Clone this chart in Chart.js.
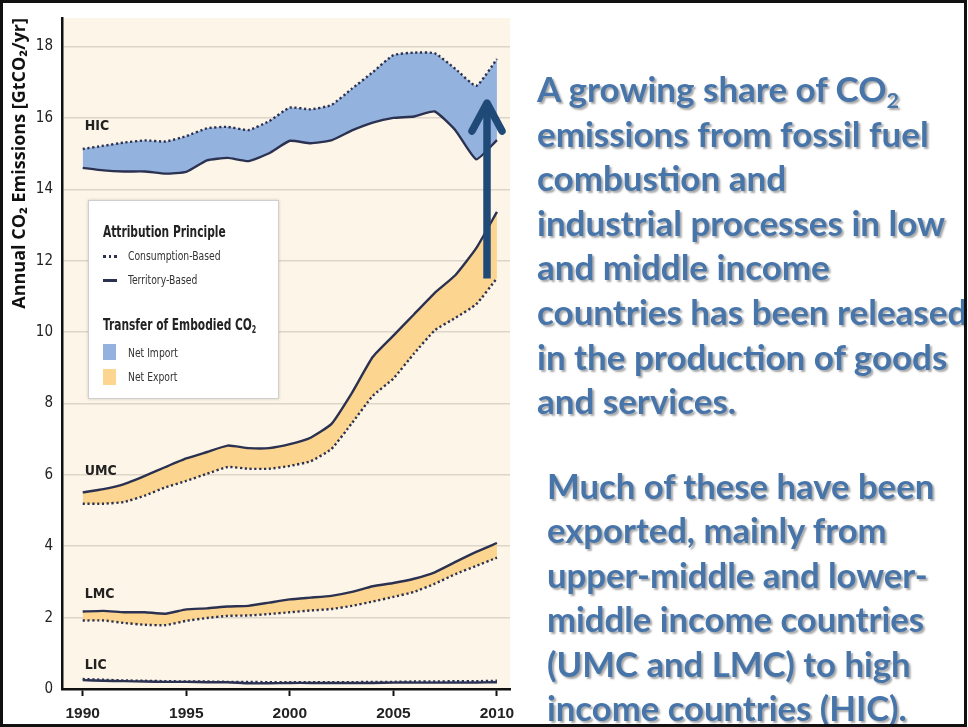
<!DOCTYPE html>
<html>
<head>
<meta charset="utf-8">
<script src="https://cdn.jsdelivr.net/npm/chart.js@4.4.0/dist/chart.umd.min.js"></script>
<style>
  html, body { margin: 0; padding: 0; background: #ffffff; }
  #wrap { position: relative; width: 968px; height: 727px; overflow: hidden; background: #fff; }
  #c { position: absolute; left: 0; top: 0; }
  #legend {
    position: absolute; left: 88px; top: 200px; width: 191px; height: 199px;
    background: #ffffff; border: 1px solid #cfcfcf; box-sizing: border-box;
    box-shadow: 0 0 3px rgba(0,0,0,0.18);
    font-family: 'Liberation Sans Narrow', 'DejaVu Sans Condensed', 'Liberation Sans', sans-serif;
    color: #222;
  }
  #legend .hd { position: absolute; left: 14px; font-weight: bold; font-size: 16px; white-space: nowrap; line-height: 18px; transform: scaleX(0.74); transform-origin: 0 50%; }
  #legend .it { position: absolute; left: 39px; font-size: 13px; white-space: nowrap; line-height: 14px; color: #333; transform: scaleX(0.79); transform-origin: 0 50%; }
  #legend .sw { position: absolute; left: 14px; }
  .para {
    position: absolute; font-family: Lato, 'Open Sans', sans-serif; font-weight: bold;
    color: #4775aa; white-space: nowrap; text-shadow: 2px 2px 2px rgba(0,0,0,0.35);
  }
  .para sub { font-size: 0.62em; vertical-align: -0.28em; line-height: 0; }
  #clip { position: absolute; left: 0; top: 0; width: 964px; height: 724px; overflow: hidden; }
  #frame { position: absolute; left: 0; top: 0; width: 967px; height: 727px; border: 3px solid #111; box-sizing: border-box; pointer-events: none; }
</style>
</head>
<body>
<div id="wrap">
  <canvas id="c" width="968" height="727"></canvas>
  <div id="legend">
    <div class="hd" style="top:22px;">Attribution Principle</div>
    <div class="sw" style="top:54px;width:14px;height:2.5px;background:repeating-linear-gradient(90deg,#2b3151 0 2.5px,transparent 2.5px 5.5px);"></div>
    <div class="it" style="top:48px;">Consumption-Based</div>
    <div class="sw" style="top:78px;width:14px;height:2.5px;background:#2b3151;"></div>
    <div class="it" style="top:72px;">Territory-Based</div>
    <div class="hd" style="top:115px;">Transfer of Embodied CO<sub style="font-size:0.6em;vertical-align:-0.3em;line-height:0">2</sub></div>
    <div class="sw" style="top:143px;width:13px;height:16px;background:#93b2dd;"></div>
    <div class="it" style="top:145px;">Net Import</div>
    <div class="sw" style="top:168px;width:13px;height:16px;background:#fcd590;"></div>
    <div class="it" style="top:169px;">Net Export</div>
  </div>
  <div id="clip">
    <div class="para" id="p1" style="left:537px;top:66px;">A growing share of CO<sub>2</sub><br>emissions from fossil fuel<br>combustion and<br>industrial processes in low<br>and middle income<br>countries has been released<br>in the production of goods<br>and services.</div>
    <div class="para" id="p2" style="left:547px;top:464px;">Much of these have been<br>exported, mainly from<br>upper-middle and lower-<br>middle income countries<br>(UMC and LMC) to high<br>income countries (HIC).</div>
  </div>
  <div id="frame"></div>
</div>
<script>
// ---------------- DATA ----------------
const years = [1990,1991,1992,1993,1994,1995,1996,1997,1998,1999,2000,2001,2002,2003,2004,2005,2006,2007,2008,2009,2010];

const hicTerritory   = [14.60,14.53,14.50,14.50,14.44,14.49,14.81,14.88,14.79,15.01,15.36,15.29,15.37,15.65,15.87,16.00,16.04,16.18,15.65,14.84,15.38];
const hicConsumption = [15.13,15.22,15.31,15.37,15.34,15.49,15.71,15.75,15.66,15.91,16.29,16.24,16.36,16.82,17.28,17.76,17.83,17.81,17.37,16.90,17.65];

const umcTerritory   = [5.51,5.60,5.74,5.97,6.22,6.46,6.64,6.82,6.75,6.75,6.86,7.04,7.42,8.30,9.30,9.90,10.50,11.10,11.60,12.35,13.37];
const umcConsumption = [5.19,5.19,5.24,5.42,5.65,5.83,6.03,6.22,6.17,6.17,6.25,6.38,6.72,7.45,8.21,8.70,9.40,10.05,10.40,10.78,11.51];

const lmcTerritory   = [2.17,2.19,2.15,2.15,2.11,2.23,2.26,2.31,2.33,2.42,2.51,2.56,2.61,2.72,2.88,2.97,3.09,3.27,3.56,3.84,4.09];
const lmcConsumption = [1.92,1.92,1.85,1.80,1.79,1.91,1.99,2.05,2.06,2.10,2.15,2.20,2.24,2.33,2.45,2.58,2.72,2.95,3.22,3.45,3.68];

const licTerritory   = [0.25,0.23,0.22,0.21,0.20,0.20,0.19,0.19,0.16,0.16,0.17,0.17,0.17,0.17,0.17,0.18,0.18,0.18,0.18,0.18,0.19];
const licConsumption = [0.28,0.26,0.24,0.23,0.22,0.21,0.21,0.20,0.20,0.19,0.19,0.19,0.19,0.19,0.20,0.20,0.21,0.21,0.22,0.22,0.23];

const groupNames  = ['HIC','UMC','LMC','LIC'];
const groupLabelY = [15.75, 6.1, 2.64, 0.66];
const xTicks = [1990,1995,2000,2005,2010];
const yTicks = [0,2,4,6,8,10,12,14,16,18];
const arrowYear = 2009.52, arrowFrom = 11.5, arrowTo = 16.5;
const yTitle = 'Annual CO\u2082 Emissions [GtCO\u2082/yr]';

// ---------------- STYLE ----------------
const LINE = '#2b3151';
const IMPORT = '#93b2dd';
const EXPORT = '#fcd590';
const BG = '#fdf5e7';

const pts = arr => arr.map((v, i) => ({x: years[i], y: v}));
function solid(data) {
  return {data: pts(data), borderColor: LINE, borderWidth: 2.4, pointRadius: 0, fill: false, tension: 0.15};
}
function dotted(data, target, color) {
  return {data: pts(data), borderColor: LINE, borderWidth: 2.4, borderDash: [2.2, 2.6], pointRadius: 0,
          fill: {target: target}, backgroundColor: color, tension: 0.15};
}

const bgPlugin = {
  id: 'bg',
  beforeDraw(chart) {
    const {ctx, chartArea: a} = chart;
    ctx.save(); ctx.fillStyle = BG; ctx.fillRect(a.left, a.top, a.right - a.left, a.bottom - a.top); ctx.restore();
  }
};

const overlayPlugin = {
  id: 'overlay',
  afterDatasetsDraw(chart) {
    const {ctx} = chart;
    const xs = chart.scales.x, ys = chart.scales.y;
    ctx.save();
    ctx.fillStyle = '#222';
    ctx.font = "bold 14px 'Liberation Sans Narrow', 'DejaVu Sans Condensed', 'Liberation Sans', sans-serif";
    ctx.textAlign = 'left'; ctx.textBaseline = 'middle';
    groupNames.forEach((n, i) => ctx.fillText(n, xs.getPixelForValue(1990) + 2, ys.getPixelForValue(groupLabelY[i])));
    // arrow
    const x = xs.getPixelForValue(arrowYear);
    const y0 = ys.getPixelForValue(arrowFrom), y1 = ys.getPixelForValue(arrowTo);
    ctx.strokeStyle = '#1f4a78';
    ctx.lineWidth = 7.5;
    ctx.lineCap = 'butt';
    ctx.beginPath(); ctx.moveTo(x, y0); ctx.lineTo(x, y1 + 3); ctx.stroke();
    ctx.lineCap = 'round'; ctx.lineJoin = 'round';
    ctx.beginPath(); ctx.moveTo(x - 15, y1 + 31); ctx.lineTo(x, y1 + 3); ctx.lineTo(x + 15, y1 + 31); ctx.stroke();
    ctx.restore();
  }
};

new Chart(document.getElementById('c'), {
  type: 'line',
  data: {
    datasets: [
      solid(hicTerritory), dotted(hicConsumption, 0, IMPORT),
      solid(umcTerritory), dotted(umcConsumption, 2, EXPORT),
      solid(lmcTerritory), dotted(lmcConsumption, 4, EXPORT),
      solid(licTerritory), dotted(licConsumption, 6, IMPORT)
    ]
  },
  options: {
    responsive: false,
    animation: false,
    events: [],
    layout: {padding: {left: 3, top: 5, right: 458, bottom: 0}},
    plugins: {legend: {display: false}, tooltip: {enabled: false}, filler: {drawTime: 'beforeDatasetsDraw'}},
    scales: {
      x: {
        type: 'linear', min: 1989.0, max: 2010.63,
        afterBuildTicks: s => { s.ticks = xTicks.map(v => ({value: v})); },
        afterFit: s => { s.height = 38; },
        grid: {drawOnChartArea: false, drawTicks: true, tickLength: 7, tickWidth: 2, tickColor: '#111'},
        border: {display: true, color: '#111', width: 2.5},
        ticks: {color: '#222', padding: 8, maxRotation: 0, callback: v => String(v),
                font: {family: "'Liberation Sans', Arial, sans-serif", size: 15.5, weight: 'bold'}}
      },
      y: {
        type: 'linear', min: 0, max: 18.8,
        afterBuildTicks: s => { s.ticks = yTicks.map(v => ({value: v})); },
        afterFit: s => { s.width = 59; },
        grid: {color: '#ddd5c7', lineWidth: 1.6, drawTicks: false},
        border: {display: true, color: '#111', width: 2.5},
        ticks: {color: '#222', padding: 9, callback: v => String(v),
                font: {family: "'Liberation Sans Narrow', 'DejaVu Sans Condensed', 'Liberation Sans', sans-serif", size: 15}},
        title: {display: true, text: yTitle, align: 'end', color: '#111', padding: {top: 6, bottom: 0},
                font: {family: "'Open Sans', 'DejaVu Sans', sans-serif", size: 18, weight: 'bold'}}
      }
    }
  },
  plugins: [bgPlugin, overlayPlugin]
});

// fit paragraph font sizes to the reference line widths
function fit(id, refText, target, lh) {
  const el = document.getElementById(id);
  const cv = document.createElement('canvas').getContext('2d');
  const fam = getComputedStyle(el).fontFamily;
  cv.font = 'bold 100px ' + fam;
  const w = cv.measureText(refText).width;
  const size = 100 * target / w;
  el.style.fontSize = size.toFixed(2) + 'px';
  el.style.lineHeight = lh + 'px';
}
fit('p1', 'industrial processes in low', 408, 44.6);
fit('p2', 'Much of these have been', 388, 44.4);
</script>
</body>
</html>
